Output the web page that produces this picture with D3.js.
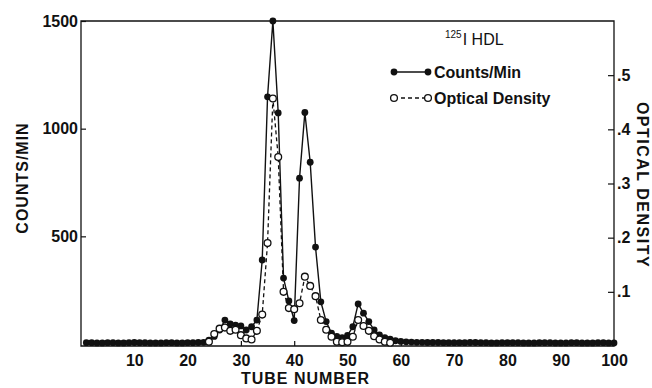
<!DOCTYPE html>
<html><head><meta charset="utf-8">
<script src="https://cdn.jsdelivr.net/npm/d3@7"></script>
<style>
html,body{margin:0;padding:0;background:#fff;}
svg{display:block;}
text{font-family:"Liberation Sans",Arial,Helvetica,sans-serif;fill:#111;}
</style>
</head><body>
<svg id="chart" width="652" height="388"></svg>
<script>
// ---- data ----
const tubeNumbers = [1,2,3,4,5,6,7,8,9,10,11,12,13,14,15,16,17,18,19,20,
  21,22,23,24,25,26,27,28,29,30,31,32,33,34,35,36,37,38,39,40,
  41,42,43,44,45,46,47,48,49,50,51,52,53,54,55,56,57,58,59,60,
  61,62,63,64,65,66,67,68,69,70,71,72,73,74,75,76,77,78,79,80,
  81,82,83,84,85,86,87,88,89,90,91,92,93,94,95,96,97,98,99,100];
const countsPerMin = [6,6,5,5,6,6,5,5,6,7,6,6,5,5,5,6,6,5,5,6,
  6,7,8,18,35,65,111,93,88,84,65,80,111,390,1148,1500,1073,306,200,109,
  770,1075,844,450,196,104,50,35,30,40,80,186,143,104,65,42,30,22,15,12,
  10,9,8,8,7,7,7,6,6,6,6,6,7,7,6,6,5,5,6,6,
  6,6,5,5,5,6,6,6,5,5,5,6,6,5,5,5,6,6,5,5];
const odTubes = [24,25,26,27,28,29,30,31,32,33,34,35,36,37,38,39,40,41,42,43,
  44,45,46,47,48,49,50,51,52,53,54,55,56,57,58];
const opticalDensity = [0.008,0.022,0.032,0.034,0.028,0.030,0.020,0.014,0.012,0.028,
  0.058,0.190,0.457,0.349,0.100,0.070,0.068,0.079,0.128,0.111,
  0.092,0.048,0.030,0.017,0.008,0.007,0.008,0.017,0.048,0.037,
  0.028,0.018,0.012,0.008,0.006];
const xTickValues = [10,20,30,40,50,60,70,80,90,100];
const countTickValues = [500,1000,1500];
const odTickValues = [0.1,0.2,0.3,0.4,0.5];
const odTickLabels = [".1",".2",".3",".4",".5"];
const legendTitleSup = "125";
const legendTitleMain = "I HDL";
const legendLabels = ["Counts/Min","Optical Density"];
const xTitle = "TUBE NUMBER", yLeftTitle = "COUNTS/MIN", yRightTitle = "OPTICAL DENSITY";

// ---- layout ----
const L = 81, R = 614, T = 21, B = 346;
const svg = d3.select("#chart");
const x = d3.scaleLinear().domain([0,100]).range([L,R]);
const yC = d3.scaleLinear().domain([0,1500]).range([344,T]);
const yOD = d3.scaleLinear().domain([0,0.6]).range([B,T]);

const countData = tubeNumbers.map((t,i)=>({t, v: countsPerMin[i]}));
const odData = odTubes.map((t,i)=>({t, v: opticalDensity[i]}));

// frame
svg.append("path")
  .attr("d", `M${L},${T}H${R}V${B}H${L}Z`)
  .attr("fill","none").attr("stroke","#111").attr("stroke-width",1.3);

// axes
const fs = "16px";
const gL = svg.append("g").attr("transform",`translate(${L},0)`)
  .call(d3.axisLeft(yC).tickValues(countTickValues).tickSizeInner(-5).tickSizeOuter(0).tickPadding(3).tickFormat(d3.format("d")));
const gR = svg.append("g").attr("transform",`translate(${R},0)`)
  .call(d3.axisRight(yOD).tickValues(odTickValues).tickSizeInner(-6).tickSizeOuter(0).tickPadding(3).tickFormat((d,i)=>odTickLabels[i]));
const gB = svg.append("g").attr("transform",`translate(0,${B})`)
  .call(d3.axisBottom(x).tickValues(xTickValues).tickSizeInner(-5).tickSizeOuter(0).tickPadding(9));
[gL,gR,gB].forEach(g=>{
  g.select(".domain").remove();
  g.selectAll(".tick line").attr("stroke","#111").attr("stroke-width",1.2);
  g.selectAll(".tick text").attr("font-size",fs).attr("font-weight","bold")
    .attr("font-family",'"Liberation Sans",Arial,sans-serif').attr("fill","#111");
});

// axis titles
svg.append("text").attr("x",L+ (R-L)/2 - 42).attr("y",384)
  .attr("text-anchor","middle").attr("font-size","16px").attr("font-weight","bold")
  .attr("letter-spacing","1px").text(xTitle);
svg.append("text").attr("transform","translate(28,178) rotate(-90)")
  .attr("text-anchor","middle").attr("font-size","16px").attr("font-weight","bold")
  .attr("letter-spacing","1px").text(yLeftTitle);
svg.append("text").attr("transform","translate(637,185) rotate(90)")
  .attr("text-anchor","middle").attr("font-size","16px").attr("font-weight","bold")
  .attr("letter-spacing","1.5px").text(yRightTitle);

// lines
const lineC = d3.line().x(d=>x(d.t)).y(d=>yC(d.v));
const lineOD = d3.line().x(d=>x(d.t)).y(d=>yOD(d.v));
svg.append("path").datum(odData).attr("d",lineOD)
  .attr("fill","none").attr("stroke","#111").attr("stroke-width",1.3).attr("stroke-dasharray","4,3");
svg.append("path").datum(countData).attr("d",lineC)
  .attr("fill","none").attr("stroke","#111").attr("stroke-width",1.4);

// markers
const r = 3.4;
svg.append("g").selectAll("circle").data(countData).join("circle")
  .attr("cx",d=>x(d.t)).attr("cy",d=>yC(d.v)).attr("r",r).attr("fill","#111");
svg.append("g").selectAll("circle").data(odData).join("circle")
  .attr("cx",d=>x(d.t)).attr("cy",d=>yOD(d.v)).attr("r",r)
  .attr("fill","#fff").attr("stroke","#111").attr("stroke-width",1.3);

// legend
const lg = svg.append("g");
const tt = lg.append("text").attr("x",445).attr("y",45).attr("font-size","16px");
tt.append("tspan").attr("font-size","10px").attr("dy","-7").text(legendTitleSup);
tt.append("tspan").attr("dy","7").attr("dx","1").text(legendTitleMain);

const ly1 = 72, ly2 = 98, lx1 = 394, lx2 = 428;
lg.append("line").attr("x1",lx1).attr("x2",lx2).attr("y1",ly1).attr("y2",ly1)
  .attr("stroke","#111").attr("stroke-width",1.4);
[lx1,lx2].forEach(cx=>lg.append("circle").attr("cx",cx).attr("cy",ly1).attr("r",r).attr("fill","#111"));
lg.append("text").attr("x",434).attr("y",ly1+6).attr("font-size","16px").attr("font-weight","bold").text(legendLabels[0]);
lg.append("line").attr("x1",lx1).attr("x2",lx2).attr("y1",ly2).attr("y2",ly2)
  .attr("stroke","#111").attr("stroke-width",1.3).attr("stroke-dasharray","4,3");
[lx1,lx2].forEach(cx=>lg.append("circle").attr("cx",cx).attr("cy",ly2).attr("r",r)
  .attr("fill","#fff").attr("stroke","#111").attr("stroke-width",1.3));
lg.append("text").attr("x",434).attr("y",ly2+6).attr("font-size","16px").attr("font-weight","bold").text(legendLabels[1]);
</script>
</body></html>
